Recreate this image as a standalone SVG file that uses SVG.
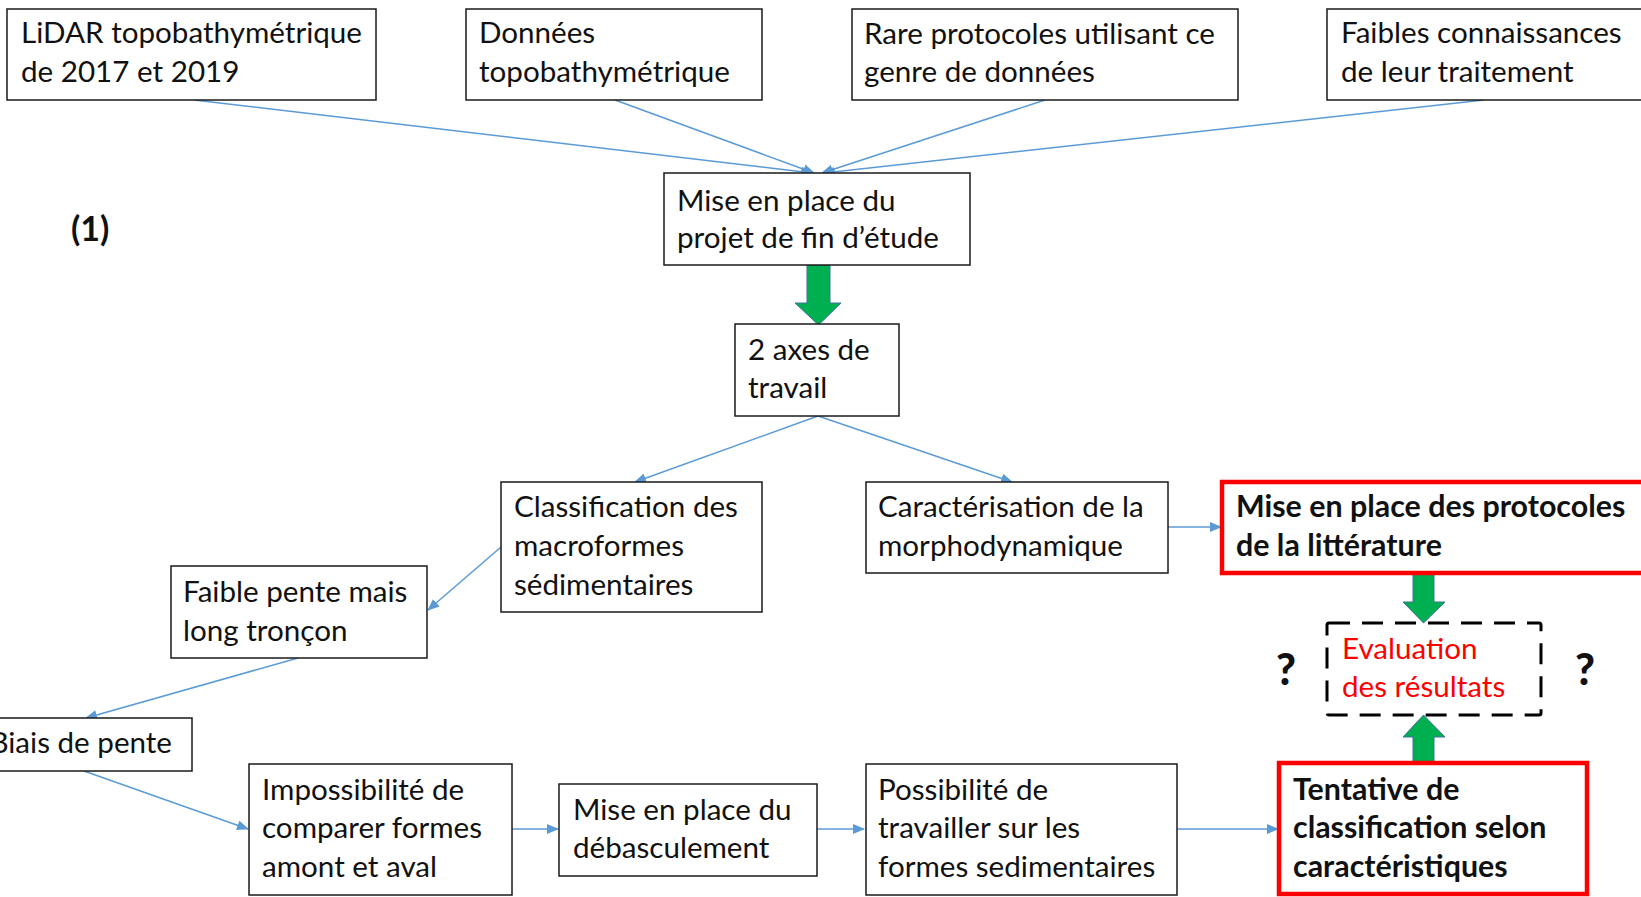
<svg xmlns="http://www.w3.org/2000/svg" width="1641" height="897" viewBox="0 0 1641 897">
<style>
.box{fill:#fff;stroke:#1a1a1a;stroke-width:1.5}
.red{fill:#fff;stroke:#ff0000;stroke-width:4.5}
.dash{fill:none;stroke:#000;stroke-width:3;stroke-dasharray:21 12}
.t{font-family:Lato,"Open Sans","Liberation Sans",sans-serif;font-size:29.6px;fill:#111}
.b{font-weight:bold;font-size:30.4px}
.rt{fill:#ff0000}
.q{font-family:Lato,"Liberation Sans",sans-serif;font-weight:900;font-size:43px;fill:#111}
.c{stroke:#5B9BD5;stroke-width:1.5;fill:none;marker-end:url(#ah)}
.g{fill:#00B050;stroke:#41719C;stroke-width:1}
</style>
<defs>
<marker id="ah" markerUnits="userSpaceOnUse" markerWidth="12" markerHeight="10" refX="11" refY="5" orient="auto">
<path d="M0,0 L12,5 L0,10 Z" fill="#5B9BD5"/>
</marker>
</defs>
<rect width="1641" height="897" fill="#fff"/>

<g id="connectors">
<line class="c" x1="194" y1="100" x2="812" y2="173"/>
<line class="c" x1="615" y1="100" x2="814" y2="173"/>
<line class="c" x1="1045" y1="100" x2="822" y2="173"/>
<line class="c" x1="1484" y1="100" x2="824" y2="173"/>
<line class="c" x1="818" y1="416" x2="635" y2="482"/>
<line class="c" x1="818" y1="416" x2="1012" y2="482"/>
<line class="c" x1="501" y1="547" x2="428" y2="610"/>
<line class="c" x1="298" y1="658" x2="86" y2="718"/>
<line class="c" x1="84" y1="771" x2="248" y2="829"/>
<line class="c" x1="512" y1="829" x2="558" y2="829"/>
<line class="c" x1="816" y1="829" x2="864" y2="829"/>
<line class="c" x1="1177" y1="829" x2="1278" y2="829"/>
<line class="c" x1="1168" y1="527" x2="1221" y2="527"/>
<polygon class="g" points="807,265 830,265 830,303 841,303 818.5,325 795,303 807,303"/>
<polygon class="g" points="1413,574 1434,574 1434,602 1445,602 1423.5,623 1403,602 1413,602"/>
<polygon class="g" points="1413,763 1434,763 1434,737 1445,737 1423.5,715 1403,737 1413,737"/>
</g>

<g id="n1"><rect class="box" x="7" y="9" width="369" height="91"/>
<text class="t" x="21" y="43">LiDAR topobathymétrique</text><text class="t" x="21" y="82">de 2017 et 2019</text></g>
<g id="n2"><rect class="box" x="466" y="9" width="296" height="91"/>
<text class="t" x="479" y="43">Données</text><text class="t" x="479" y="82">topobathymétrique</text></g>
<g id="n3"><rect class="box" x="852" y="9" width="386" height="91"/>
<text class="t" x="864" y="44">Rare protocoles utilisant ce</text><text class="t" x="864" y="82">genre de données</text></g>
<g id="n4"><rect class="box" x="1327" y="9" width="330" height="91"/>
<text class="t" x="1341" y="43">Faibles connaissances</text><text class="t" x="1341" y="82">de leur traitement</text></g>
<g id="n5"><rect class="box" x="664" y="173" width="306" height="92"/>
<text class="t" x="677" y="211">Mise en place du</text><text class="t" x="677" y="248">projet de fin d’étude</text></g>
<g id="n6"><rect class="box" x="735" y="324" width="164" height="92"/>
<text class="t" x="748" y="360">2 axes de</text><text class="t" x="748" y="398">travail</text></g>
<g id="n7"><rect class="box" x="501" y="482" width="261" height="130"/>
<text class="t" x="514" y="517">Classification des</text><text class="t" x="514" y="556">macroformes</text><text class="t" x="514" y="595">sédimentaires</text></g>
<g id="n8"><rect class="box" x="866" y="482" width="302" height="91"/>
<text class="t" x="878" y="517">Caractérisation de la</text><text class="t" x="878" y="556">morphodynamique</text></g>
<g id="n9"><rect class="red" x="1222" y="482" width="440" height="91"/>
<text class="t b" x="1236" y="517">Mise en place des protocoles</text><text class="t b" x="1236" y="556">de la littérature</text></g>
<g id="n10"><rect class="box" x="171" y="566" width="256" height="92"/>
<text class="t" x="183" y="602">Faible pente mais</text><text class="t" x="183" y="641">long tronçon</text></g>
<g id="n11"><rect class="box" x="-10" y="718" width="202" height="53"/>
<text class="t" x="172" y="753" text-anchor="end">Biais de pente</text></g>
<g id="n12"><rect class="box" x="249" y="764" width="263" height="131"/>
<text class="t" x="262" y="800">Impossibilité de</text><text class="t" x="262" y="838">comparer formes</text><text class="t" x="262" y="877">amont et aval</text></g>
<g id="n13"><rect class="box" x="559" y="784" width="258" height="92"/>
<text class="t" x="573" y="820">Mise en place du</text><text class="t" x="573" y="858">débasculement</text></g>
<g id="n14"><rect class="box" x="866" y="764" width="311" height="131"/>
<text class="t" x="878" y="800">Possibilité de</text><text class="t" x="878" y="838">travailler sur les</text><text class="t" x="878" y="877">formes sedimentaires</text></g>
<g id="n15"><rect class="red" x="1279" y="763" width="308" height="131"/>
<text class="t b" x="1293" y="800">Tentative de</text><text class="t b" x="1293" y="838">classification selon</text><text class="t b" x="1293" y="877">caractéristiques</text></g>
<g id="n16"><rect class="dash" x="1327" y="623" width="214" height="92" rx="2"/>
<text class="t rt" x="1342" y="659">Evaluation</text><text class="t rt" x="1342" y="697">des résultats</text></g>
<text class="q" x="1286" y="685" text-anchor="middle">?</text>
<text class="q" x="1585" y="685" text-anchor="middle">?</text>
<text class="t b" x="71" y="241" style="font-size:34px">(1)</text>
</svg>
